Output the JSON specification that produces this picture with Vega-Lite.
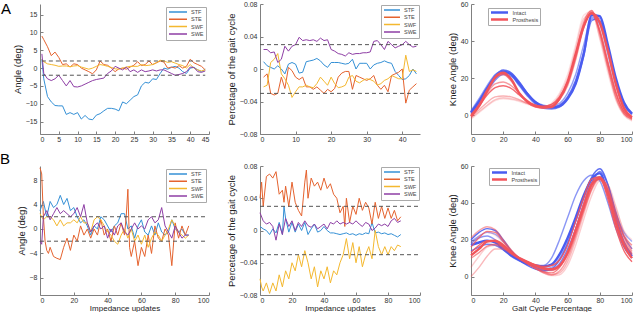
{
"$schema":"https://vega.github.io/schema/vega-lite/v6.json",
"padding":0,
"background":"white",
"config":{"font":"Liberation Sans","view":{"stroke":null},
"axis":{"grid":false,"domainColor":"#808080","tickColor":"#808080","tickSize":-3,"labelFontSize":7,"labelColor":"#333333","titleFontSize":9.5,"titleFontWeight":"normal","titleColor":"#222222","labelOverlap":false,"labelBound":false},
"axisX":{"labelPadding":4,"titlePadding":1},
"axisY":{"labelPadding":6,"titlePadding":3},
"legend":{"labelFontSize":5.5,"labelColor":"#444444","fillColor":"white","strokeColor":"#aaaaaa","padding":2,"labelOffset":3,"clipHeight":6,"rowPadding":0.3}},
"datasets":{
"a1":[
{"x":0.5,"y":2.5,"s":"STF"},{"x":1,"y":-3,"s":"STF"},{"x":2,"y":-8,"s":"STF"},{"x":3,"y":-9.5,"s":"STF"},{"x":4,"y":-10.5,"s":"STF"},{"x":5,"y":-10.6,"s":"STF"},{"x":6,"y":-10.6,"s":"STF"},{"x":7,"y":-13,"s":"STF"},{"x":8,"y":-12.5,"s":"STF"},{"x":9,"y":-13,"s":"STF"},{"x":10,"y":-12.5,"s":"STF"},{"x":11,"y":-14.3,"s":"STF"},{"x":12,"y":-13.3,"s":"STF"},{"x":13,"y":-14.3,"s":"STF"},{"x":14,"y":-14.5,"s":"STF"},{"x":15,"y":-13.2,"s":"STF"},{"x":16,"y":-12.8,"s":"STF"},{"x":17,"y":-12,"s":"STF"},{"x":18,"y":-11.3,"s":"STF"},{"x":19,"y":-11.3,"s":"STF"},{"x":20,"y":-11.5,"s":"STF"},{"x":21,"y":-12,"s":"STF"},{"x":22,"y":-9.5,"s":"STF"},{"x":23,"y":-10,"s":"STF"},{"x":24,"y":-9,"s":"STF"},{"x":25,"y":-8,"s":"STF"},{"x":26,"y":-7.5,"s":"STF"},{"x":27,"y":-5,"s":"STF"},{"x":28,"y":-4,"s":"STF"},{"x":29,"y":-4.2,"s":"STF"},{"x":30,"y":-3,"s":"STF"},{"x":31,"y":-3.2,"s":"STF"},{"x":32,"y":-1.5,"s":"STF"},{"x":33,"y":0,"s":"STF"},{"x":34,"y":-0.3,"s":"STF"},{"x":35,"y":0.2,"s":"STF"},{"x":36,"y":0.5,"s":"STF"},{"x":37,"y":0,"s":"STF"},{"x":38,"y":-1,"s":"STF"},{"x":39,"y":-1.5,"s":"STF"},{"x":40,"y":0,"s":"STF"},{"x":41,"y":0.2,"s":"STF"},{"x":42,"y":-0.5,"s":"STF"},{"x":43,"y":-1,"s":"STF"},{"x":44,"y":-0.3,"s":"STF"},
{"x":0.5,"y":9,"s":"STE"},{"x":1,"y":8,"s":"STE"},{"x":2,"y":6,"s":"STE"},{"x":3,"y":3.5,"s":"STE"},{"x":4,"y":4.5,"s":"STE"},{"x":5,"y":3,"s":"STE"},{"x":6,"y":1,"s":"STE"},{"x":7,"y":1.2,"s":"STE"},{"x":8,"y":0.3,"s":"STE"},{"x":9,"y":1.2,"s":"STE"},{"x":10,"y":1,"s":"STE"},{"x":11,"y":0,"s":"STE"},{"x":12,"y":-0.5,"s":"STE"},{"x":13,"y":-1,"s":"STE"},{"x":14,"y":-1.6,"s":"STE"},{"x":15,"y":-0.5,"s":"STE"},{"x":16,"y":2,"s":"STE"},{"x":17,"y":1,"s":"STE"},{"x":18,"y":0.8,"s":"STE"},{"x":19,"y":0,"s":"STE"},{"x":20,"y":-1,"s":"STE"},{"x":21,"y":-0.2,"s":"STE"},{"x":22,"y":0,"s":"STE"},{"x":23,"y":-0.3,"s":"STE"},{"x":24,"y":0.3,"s":"STE"},{"x":25,"y":0.8,"s":"STE"},{"x":26,"y":1.8,"s":"STE"},{"x":27,"y":0.7,"s":"STE"},{"x":28,"y":1,"s":"STE"},{"x":29,"y":2,"s":"STE"},{"x":30,"y":1,"s":"STE"},{"x":31,"y":1.5,"s":"STE"},{"x":32,"y":2,"s":"STE"},{"x":33,"y":1.7,"s":"STE"},{"x":34,"y":0,"s":"STE"},{"x":35,"y":0.3,"s":"STE"},{"x":36,"y":0,"s":"STE"},{"x":37,"y":0.7,"s":"STE"},{"x":38,"y":0,"s":"STE"},{"x":39,"y":0.5,"s":"STE"},{"x":40,"y":2.5,"s":"STE"},{"x":41,"y":1.5,"s":"STE"},{"x":42,"y":1,"s":"STE"},{"x":43,"y":0.5,"s":"STE"},{"x":44,"y":-0.5,"s":"STE"},
{"x":0.5,"y":2.5,"s":"SWF"},{"x":1,"y":1.8,"s":"SWF"},{"x":2,"y":1.2,"s":"SWF"},{"x":3,"y":1,"s":"SWF"},{"x":4,"y":0.8,"s":"SWF"},{"x":5,"y":0.5,"s":"SWF"},{"x":6,"y":0.6,"s":"SWF"},{"x":7,"y":0.6,"s":"SWF"},{"x":8,"y":0.4,"s":"SWF"},{"x":9,"y":0.6,"s":"SWF"},{"x":10,"y":0.7,"s":"SWF"},{"x":11,"y":0.3,"s":"SWF"},{"x":12,"y":0,"s":"SWF"},{"x":13,"y":-0.3,"s":"SWF"},{"x":14,"y":0,"s":"SWF"},{"x":15,"y":0.5,"s":"SWF"},{"x":16,"y":1,"s":"SWF"},{"x":17,"y":0.8,"s":"SWF"},{"x":18,"y":0.5,"s":"SWF"},{"x":19,"y":0.2,"s":"SWF"},{"x":20,"y":-0.2,"s":"SWF"},{"x":21,"y":-0.3,"s":"SWF"},{"x":22,"y":0,"s":"SWF"},{"x":23,"y":0.3,"s":"SWF"},{"x":24,"y":0.5,"s":"SWF"},{"x":25,"y":0.5,"s":"SWF"},{"x":26,"y":0.5,"s":"SWF"},{"x":27,"y":1,"s":"SWF"},{"x":28,"y":0.7,"s":"SWF"},{"x":29,"y":0.8,"s":"SWF"},{"x":30,"y":1,"s":"SWF"},{"x":31,"y":1.5,"s":"SWF"},{"x":32,"y":2.2,"s":"SWF"},{"x":33,"y":2,"s":"SWF"},{"x":34,"y":1.6,"s":"SWF"},{"x":35,"y":1.8,"s":"SWF"},{"x":36,"y":1.4,"s":"SWF"},{"x":37,"y":1,"s":"SWF"},{"x":38,"y":0.7,"s":"SWF"},{"x":39,"y":0,"s":"SWF"},{"x":40,"y":1,"s":"SWF"},{"x":41,"y":0,"s":"SWF"},{"x":42,"y":-0.5,"s":"SWF"},{"x":43,"y":-0.8,"s":"SWF"},{"x":44,"y":-0.5,"s":"SWF"},
{"x":0.5,"y":4,"s":"SWE"},{"x":1,"y":-1.5,"s":"SWE"},{"x":2,"y":-3,"s":"SWE"},{"x":3,"y":-3.5,"s":"SWE"},{"x":4,"y":-3,"s":"SWE"},{"x":5,"y":-2,"s":"SWE"},{"x":6,"y":-3.5,"s":"SWE"},{"x":7,"y":-5,"s":"SWE"},{"x":8,"y":-3.5,"s":"SWE"},{"x":9,"y":-5.2,"s":"SWE"},{"x":10,"y":-5.3,"s":"SWE"},{"x":11,"y":-5,"s":"SWE"},{"x":12,"y":-4.5,"s":"SWE"},{"x":13,"y":-4,"s":"SWE"},{"x":14,"y":-3.5,"s":"SWE"},{"x":15,"y":-3.2,"s":"SWE"},{"x":16,"y":-3,"s":"SWE"},{"x":17,"y":-2.8,"s":"SWE"},{"x":18,"y":-1.5,"s":"SWE"},{"x":19,"y":-0.8,"s":"SWE"},{"x":20,"y":0.5,"s":"SWE"},{"x":21,"y":0,"s":"SWE"},{"x":22,"y":-0.5,"s":"SWE"},{"x":23,"y":0.3,"s":"SWE"},{"x":24,"y":-1,"s":"SWE"},{"x":25,"y":-0.5,"s":"SWE"},{"x":26,"y":-1.2,"s":"SWE"},{"x":27,"y":-0.5,"s":"SWE"},{"x":28,"y":-1,"s":"SWE"},{"x":29,"y":-0.8,"s":"SWE"},{"x":30,"y":-0.5,"s":"SWE"},{"x":31,"y":-0.8,"s":"SWE"},{"x":32,"y":-0.5,"s":"SWE"},{"x":33,"y":-0.5,"s":"SWE"},{"x":34,"y":-1,"s":"SWE"},{"x":35,"y":-1.5,"s":"SWE"},{"x":36,"y":-2,"s":"SWE"},{"x":37,"y":-1.8,"s":"SWE"},{"x":38,"y":-1.5,"s":"SWE"},{"x":39,"y":-1,"s":"SWE"},{"x":40,"y":0.3,"s":"SWE"},{"x":41,"y":0.2,"s":"SWE"},{"x":42,"y":-1,"s":"SWE"},{"x":43,"y":-1.2,"s":"SWE"},{"x":44,"y":-0.8,"s":"SWE"}],
"a2":[
{"x":1,"y":0.009,"s":"STF"},{"x":2,"y":0.004,"s":"STF"},{"x":3,"y":0.002,"s":"STF"},{"x":4,"y":0,"s":"STF"},{"x":5,"y":0.004,"s":"STF"},{"x":6,"y":0,"s":"STF"},{"x":7,"y":-0.006,"s":"STF"},{"x":8,"y":0.006,"s":"STF"},{"x":9,"y":0.008,"s":"STF"},{"x":10,"y":0.006,"s":"STF"},{"x":11,"y":-0.005,"s":"STF"},{"x":12,"y":-0.004,"s":"STF"},{"x":13,"y":0.009,"s":"STF"},{"x":14,"y":0.01,"s":"STF"},{"x":15,"y":0.011,"s":"STF"},{"x":16,"y":0.013,"s":"STF"},{"x":17,"y":0.01,"s":"STF"},{"x":18,"y":0.005,"s":"STF"},{"x":19,"y":0.002,"s":"STF"},{"x":20,"y":0.008,"s":"STF"},{"x":21,"y":0.008,"s":"STF"},{"x":22,"y":0.008,"s":"STF"},{"x":23,"y":0.007,"s":"STF"},{"x":24,"y":0.006,"s":"STF"},{"x":25,"y":0.007,"s":"STF"},{"x":26,"y":0.012,"s":"STF"},{"x":27,"y":0,"s":"STF"},{"x":28,"y":0.007,"s":"STF"},{"x":29,"y":0.007,"s":"STF"},{"x":30,"y":0.007,"s":"STF"},{"x":31,"y":0,"s":"STF"},{"x":32,"y":0.005,"s":"STF"},{"x":33,"y":0.007,"s":"STF"},{"x":34,"y":0.008,"s":"STF"},{"x":35,"y":0.01,"s":"STF"},{"x":36,"y":0.008,"s":"STF"},{"x":37,"y":0.007,"s":"STF"},{"x":38,"y":-0.003,"s":"STF"},{"x":39,"y":-0.008,"s":"STF"},{"x":40,"y":-0.013,"s":"STF"},{"x":41,"y":-0.012,"s":"STF"},{"x":42,"y":-0.008,"s":"STF"},{"x":43,"y":0,"s":"STF"},{"x":44,"y":-0.006,"s":"STF"},
{"x":1,"y":-0.01,"s":"STE"},{"x":2,"y":-0.006,"s":"STE"},{"x":3,"y":-0.03,"s":"STE"},{"x":4,"y":-0.032,"s":"STE"},{"x":5,"y":-0.03,"s":"STE"},{"x":6,"y":-0.01,"s":"STE"},{"x":7,"y":-0.024,"s":"STE"},{"x":8,"y":0.002,"s":"STE"},{"x":9,"y":-0.002,"s":"STE"},{"x":10,"y":-0.01,"s":"STE"},{"x":11,"y":-0.013,"s":"STE"},{"x":12,"y":-0.01,"s":"STE"},{"x":13,"y":-0.022,"s":"STE"},{"x":14,"y":-0.022,"s":"STE"},{"x":15,"y":-0.025,"s":"STE"},{"x":16,"y":-0.022,"s":"STE"},{"x":17,"y":-0.026,"s":"STE"},{"x":18,"y":-0.03,"s":"STE"},{"x":19,"y":-0.025,"s":"STE"},{"x":20,"y":-0.028,"s":"STE"},{"x":21,"y":-0.024,"s":"STE"},{"x":22,"y":-0.01,"s":"STE"},{"x":23,"y":-0.005,"s":"STE"},{"x":24,"y":-0.003,"s":"STE"},{"x":25,"y":-0.003,"s":"STE"},{"x":26,"y":-0.025,"s":"STE"},{"x":27,"y":-0.008,"s":"STE"},{"x":28,"y":-0.01,"s":"STE"},{"x":29,"y":-0.012,"s":"STE"},{"x":30,"y":-0.014,"s":"STE"},{"x":31,"y":-0.012,"s":"STE"},{"x":32,"y":-0.008,"s":"STE"},{"x":33,"y":-0.02,"s":"STE"},{"x":34,"y":-0.025,"s":"STE"},{"x":35,"y":-0.02,"s":"STE"},{"x":36,"y":-0.028,"s":"STE"},{"x":37,"y":-0.008,"s":"STE"},{"x":38,"y":-0.006,"s":"STE"},{"x":39,"y":-0.004,"s":"STE"},{"x":40,"y":0,"s":"STE"},{"x":41,"y":-0.042,"s":"STE"},{"x":42,"y":-0.026,"s":"STE"},{"x":43,"y":-0.022,"s":"STE"},{"x":44,"y":-0.018,"s":"STE"},
{"x":1,"y":-0.022,"s":"SWF"},{"x":2,"y":-0.02,"s":"SWF"},{"x":3,"y":0.008,"s":"SWF"},{"x":4,"y":0.012,"s":"SWF"},{"x":5,"y":0.019,"s":"SWF"},{"x":6,"y":-0.006,"s":"SWF"},{"x":7,"y":-0.012,"s":"SWF"},{"x":8,"y":-0.02,"s":"SWF"},{"x":9,"y":-0.035,"s":"SWF"},{"x":10,"y":-0.028,"s":"SWF"},{"x":11,"y":-0.022,"s":"SWF"},{"x":12,"y":-0.022,"s":"SWF"},{"x":13,"y":-0.02,"s":"SWF"},{"x":14,"y":-0.022,"s":"SWF"},{"x":15,"y":-0.023,"s":"SWF"},{"x":16,"y":-0.018,"s":"SWF"},{"x":17,"y":-0.01,"s":"SWF"},{"x":18,"y":-0.015,"s":"SWF"},{"x":19,"y":-0.02,"s":"SWF"},{"x":20,"y":-0.01,"s":"SWF"},{"x":21,"y":-0.018,"s":"SWF"},{"x":22,"y":-0.023,"s":"SWF"},{"x":23,"y":-0.022,"s":"SWF"},{"x":24,"y":-0.02,"s":"SWF"},{"x":25,"y":-0.01,"s":"SWF"},{"x":26,"y":-0.008,"s":"SWF"},{"x":27,"y":-0.015,"s":"SWF"},{"x":28,"y":-0.017,"s":"SWF"},{"x":29,"y":-0.014,"s":"SWF"},{"x":30,"y":-0.012,"s":"SWF"},{"x":31,"y":-0.013,"s":"SWF"},{"x":32,"y":-0.015,"s":"SWF"},{"x":33,"y":-0.02,"s":"SWF"},{"x":34,"y":-0.018,"s":"SWF"},{"x":35,"y":-0.014,"s":"SWF"},{"x":36,"y":-0.012,"s":"SWF"},{"x":37,"y":-0.008,"s":"SWF"},{"x":38,"y":-0.01,"s":"SWF"},{"x":39,"y":-0.012,"s":"SWF"},{"x":40,"y":-0.012,"s":"SWF"},{"x":41,"y":0.017,"s":"SWF"},{"x":42,"y":-0.003,"s":"SWF"},{"x":43,"y":-0.001,"s":"SWF"},{"x":44,"y":-0.003,"s":"SWF"},
{"x":1,"y":0.024,"s":"SWE"},{"x":2,"y":0.024,"s":"SWE"},{"x":3,"y":0.02,"s":"SWE"},{"x":4,"y":0.021,"s":"SWE"},{"x":5,"y":0.008,"s":"SWE"},{"x":6,"y":0.012,"s":"SWE"},{"x":7,"y":0.028,"s":"SWE"},{"x":8,"y":0.022,"s":"SWE"},{"x":9,"y":0.028,"s":"SWE"},{"x":10,"y":0.03,"s":"SWE"},{"x":11,"y":0.039,"s":"SWE"},{"x":12,"y":0.035,"s":"SWE"},{"x":13,"y":0.036,"s":"SWE"},{"x":14,"y":0.035,"s":"SWE"},{"x":15,"y":0.036,"s":"SWE"},{"x":16,"y":0.034,"s":"SWE"},{"x":17,"y":0.038,"s":"SWE"},{"x":18,"y":0.035,"s":"SWE"},{"x":19,"y":0.036,"s":"SWE"},{"x":20,"y":0.024,"s":"SWE"},{"x":21,"y":0.022,"s":"SWE"},{"x":22,"y":0.019,"s":"SWE"},{"x":23,"y":0.018,"s":"SWE"},{"x":24,"y":0.016,"s":"SWE"},{"x":25,"y":0.02,"s":"SWE"},{"x":26,"y":0.018,"s":"SWE"},{"x":27,"y":0.019,"s":"SWE"},{"x":28,"y":0.019,"s":"SWE"},{"x":29,"y":0.02,"s":"SWE"},{"x":30,"y":0.02,"s":"SWE"},{"x":31,"y":0.021,"s":"SWE"},{"x":32,"y":0.034,"s":"SWE"},{"x":33,"y":0.035,"s":"SWE"},{"x":34,"y":0.03,"s":"SWE"},{"x":35,"y":0.024,"s":"SWE"},{"x":36,"y":0.034,"s":"SWE"},{"x":37,"y":0.03,"s":"SWE"},{"x":38,"y":0.026,"s":"SWE"},{"x":39,"y":0.028,"s":"SWE"},{"x":40,"y":0.03,"s":"SWE"},{"x":41,"y":0.034,"s":"SWE"},{"x":42,"y":0.03,"s":"SWE"},{"x":43,"y":0.027,"s":"SWE"},{"x":44,"y":0.028,"s":"SWE"}],
"b1":[
{"x":0,"y":3,"s":"STF"},{"x":2,"y":4.5,"s":"STF"},{"x":4,"y":2,"s":"STF"},{"x":6,"y":4.5,"s":"STF"},{"x":8,"y":3.5,"s":"STF"},{"x":10,"y":4,"s":"STF"},{"x":12,"y":5.5,"s":"STF"},{"x":14,"y":4,"s":"STF"},{"x":16,"y":5,"s":"STF"},{"x":18,"y":3,"s":"STF"},{"x":20,"y":3.5,"s":"STF"},{"x":22,"y":2,"s":"STF"},{"x":24,"y":1,"s":"STF"},{"x":26,"y":1.5,"s":"STF"},{"x":28,"y":0.5,"s":"STF"},{"x":30,"y":-1,"s":"STF"},{"x":32,"y":0.5,"s":"STF"},{"x":34,"y":0,"s":"STF"},{"x":36,"y":2,"s":"STF"},{"x":38,"y":1.5,"s":"STF"},{"x":40,"y":0.5,"s":"STF"},{"x":42,"y":-0.5,"s":"STF"},{"x":44,"y":0.5,"s":"STF"},{"x":46,"y":1,"s":"STF"},{"x":48,"y":2.5,"s":"STF"},{"x":50,"y":2.5,"s":"STF"},{"x":52,"y":0,"s":"STF"},{"x":54,"y":0.5,"s":"STF"},{"x":56,"y":-1.5,"s":"STF"},{"x":58,"y":0.5,"s":"STF"},{"x":60,"y":1.5,"s":"STF"},{"x":62,"y":-0.5,"s":"STF"},{"x":64,"y":-1,"s":"STF"},{"x":66,"y":0.5,"s":"STF"},{"x":68,"y":-1,"s":"STF"},{"x":70,"y":1,"s":"STF"},{"x":72,"y":-0.5,"s":"STF"},{"x":74,"y":-1,"s":"STF"},{"x":76,"y":-0.5,"s":"STF"},{"x":78,"y":1.5,"s":"STF"},{"x":80,"y":0,"s":"STF"},{"x":82,"y":-0.5,"s":"STF"},{"x":84,"y":0,"s":"STF"},{"x":86,"y":-1,"s":"STF"},{"x":88,"y":-1,"s":"STF"},
{"x":0,"y":10,"s":"STE"},{"x":1,"y":9,"s":"STE"},{"x":2,"y":2,"s":"STE"},{"x":3,"y":-2,"s":"STE"},{"x":4,"y":-3.5,"s":"STE"},{"x":5,"y":-4,"s":"STE"},{"x":6,"y":-3,"s":"STE"},{"x":8,"y":-4.5,"s":"STE"},{"x":10,"y":-4.8,"s":"STE"},{"x":12,"y":-5,"s":"STE"},{"x":14,"y":-3,"s":"STE"},{"x":16,"y":-1.5,"s":"STE"},{"x":18,"y":-3.5,"s":"STE"},{"x":20,"y":-1,"s":"STE"},{"x":22,"y":-2,"s":"STE"},{"x":24,"y":0.5,"s":"STE"},{"x":26,"y":-1,"s":"STE"},{"x":28,"y":0,"s":"STE"},{"x":30,"y":-1.5,"s":"STE"},{"x":32,"y":0,"s":"STE"},{"x":34,"y":-1,"s":"STE"},{"x":36,"y":1.5,"s":"STE"},{"x":38,"y":-1,"s":"STE"},{"x":40,"y":0,"s":"STE"},{"x":42,"y":-2,"s":"STE"},{"x":44,"y":0.5,"s":"STE"},{"x":46,"y":-1,"s":"STE"},{"x":48,"y":1,"s":"STE"},{"x":50,"y":-1,"s":"STE"},{"x":51,"y":2,"s":"STE"},{"x":52,"y":6.5,"s":"STE"},{"x":53,"y":-3,"s":"STE"},{"x":54,"y":-4.5,"s":"STE"},{"x":56,"y":-2,"s":"STE"},{"x":58,"y":-6,"s":"STE"},{"x":60,"y":-3,"s":"STE"},{"x":62,"y":-4.5,"s":"STE"},{"x":64,"y":-1,"s":"STE"},{"x":66,"y":-4,"s":"STE"},{"x":68,"y":0.5,"s":"STE"},{"x":70,"y":-1.5,"s":"STE"},{"x":72,"y":-2,"s":"STE"},{"x":74,"y":0,"s":"STE"},{"x":76,"y":-1,"s":"STE"},{"x":78,"y":-6,"s":"STE"},{"x":80,"y":1,"s":"STE"},{"x":82,"y":-1.5,"s":"STE"},{"x":84,"y":0.5,"s":"STE"},{"x":86,"y":-1,"s":"STE"},{"x":88,"y":0.5,"s":"STE"},
{"x":0,"y":2.5,"s":"SWF"},{"x":2,"y":1.5,"s":"SWF"},{"x":4,"y":2,"s":"SWF"},{"x":6,"y":2,"s":"SWF"},{"x":8,"y":1.5,"s":"SWF"},{"x":10,"y":0.5,"s":"SWF"},{"x":12,"y":1.5,"s":"SWF"},{"x":14,"y":0.5,"s":"SWF"},{"x":16,"y":1,"s":"SWF"},{"x":18,"y":1,"s":"SWF"},{"x":20,"y":1.5,"s":"SWF"},{"x":22,"y":1,"s":"SWF"},{"x":24,"y":2,"s":"SWF"},{"x":26,"y":1,"s":"SWF"},{"x":28,"y":1,"s":"SWF"},{"x":30,"y":-0.5,"s":"SWF"},{"x":32,"y":1.5,"s":"SWF"},{"x":34,"y":2,"s":"SWF"},{"x":36,"y":1.5,"s":"SWF"},{"x":38,"y":0.5,"s":"SWF"},{"x":40,"y":-0.5,"s":"SWF"},{"x":42,"y":-1,"s":"SWF"},{"x":44,"y":-2,"s":"SWF"},{"x":46,"y":-2.5,"s":"SWF"},{"x":48,"y":-1,"s":"SWF"},{"x":50,"y":0,"s":"SWF"},{"x":52,"y":-1.5,"s":"SWF"},{"x":54,"y":0,"s":"SWF"},{"x":56,"y":-2,"s":"SWF"},{"x":58,"y":-1,"s":"SWF"},{"x":60,"y":-2.5,"s":"SWF"},{"x":62,"y":-1,"s":"SWF"},{"x":64,"y":-3,"s":"SWF"},{"x":66,"y":-1.5,"s":"SWF"},{"x":68,"y":-0.5,"s":"SWF"},{"x":70,"y":-1,"s":"SWF"},{"x":72,"y":-2,"s":"SWF"},{"x":74,"y":-1,"s":"SWF"},{"x":76,"y":0,"s":"SWF"},{"x":78,"y":1.5,"s":"SWF"},{"x":80,"y":0.5,"s":"SWF"},{"x":82,"y":-0.5,"s":"SWF"},{"x":84,"y":-1,"s":"SWF"},{"x":86,"y":-1.5,"s":"SWF"},{"x":88,"y":-1,"s":"SWF"},
{"x":0,"y":-2,"s":"SWE"},{"x":1,"y":-2.5,"s":"SWE"},{"x":2,"y":2,"s":"SWE"},{"x":4,"y":3,"s":"SWE"},{"x":6,"y":1.5,"s":"SWE"},{"x":8,"y":2.5,"s":"SWE"},{"x":10,"y":3.5,"s":"SWE"},{"x":12,"y":2.5,"s":"SWE"},{"x":14,"y":3,"s":"SWE"},{"x":16,"y":2.5,"s":"SWE"},{"x":18,"y":2,"s":"SWE"},{"x":20,"y":2.5,"s":"SWE"},{"x":22,"y":3.5,"s":"SWE"},{"x":24,"y":2,"s":"SWE"},{"x":26,"y":4,"s":"SWE"},{"x":28,"y":1,"s":"SWE"},{"x":30,"y":-0.5,"s":"SWE"},{"x":32,"y":0.5,"s":"SWE"},{"x":34,"y":1,"s":"SWE"},{"x":36,"y":0,"s":"SWE"},{"x":38,"y":0.5,"s":"SWE"},{"x":40,"y":-1.5,"s":"SWE"},{"x":42,"y":0,"s":"SWE"},{"x":44,"y":-1,"s":"SWE"},{"x":46,"y":0.5,"s":"SWE"},{"x":48,"y":1,"s":"SWE"},{"x":50,"y":-0.5,"s":"SWE"},{"x":52,"y":-1,"s":"SWE"},{"x":54,"y":0,"s":"SWE"},{"x":56,"y":1,"s":"SWE"},{"x":58,"y":0,"s":"SWE"},{"x":60,"y":0.5,"s":"SWE"},{"x":62,"y":0,"s":"SWE"},{"x":64,"y":1.5,"s":"SWE"},{"x":66,"y":2,"s":"SWE"},{"x":68,"y":1,"s":"SWE"},{"x":70,"y":1.5,"s":"SWE"},{"x":72,"y":3.5,"s":"SWE"},{"x":74,"y":0.5,"s":"SWE"},{"x":76,"y":-0.5,"s":"SWE"},{"x":78,"y":-1.5,"s":"SWE"},{"x":80,"y":0.5,"s":"SWE"},{"x":82,"y":-0.5,"s":"SWE"},{"x":84,"y":-1.5,"s":"SWE"},{"x":86,"y":-1,"s":"SWE"},{"x":88,"y":-1,"s":"SWE"}],
"b2":[
{"x":0,"y":0.005,"s":"STF"},{"x":2,"y":0.002,"s":"STF"},{"x":4,"y":0,"s":"STF"},{"x":6,"y":-0.005,"s":"STF"},{"x":8,"y":0.002,"s":"STF"},{"x":10,"y":-0.003,"s":"STF"},{"x":12,"y":0.01,"s":"STF"},{"x":14,"y":-0.005,"s":"STF"},{"x":15,"y":0.03,"s":"STF"},{"x":16,"y":0.015,"s":"STF"},{"x":18,"y":-0.002,"s":"STF"},{"x":20,"y":0.01,"s":"STF"},{"x":22,"y":-0.002,"s":"STF"},{"x":24,"y":0.008,"s":"STF"},{"x":26,"y":0,"s":"STF"},{"x":28,"y":0.01,"s":"STF"},{"x":30,"y":-0.005,"s":"STF"},{"x":32,"y":0.002,"s":"STF"},{"x":34,"y":0.008,"s":"STF"},{"x":36,"y":-0.002,"s":"STF"},{"x":38,"y":0,"s":"STF"},{"x":40,"y":0.005,"s":"STF"},{"x":42,"y":0,"s":"STF"},{"x":44,"y":-0.003,"s":"STF"},{"x":46,"y":-0.003,"s":"STF"},{"x":48,"y":-0.004,"s":"STF"},{"x":50,"y":-0.005,"s":"STF"},{"x":52,"y":-0.004,"s":"STF"},{"x":54,"y":-0.003,"s":"STF"},{"x":56,"y":-0.005,"s":"STF"},{"x":58,"y":-0.004,"s":"STF"},{"x":60,"y":-0.006,"s":"STF"},{"x":62,"y":-0.004,"s":"STF"},{"x":64,"y":-0.005,"s":"STF"},{"x":66,"y":-0.003,"s":"STF"},{"x":68,"y":-0.004,"s":"STF"},{"x":70,"y":0.01,"s":"STF"},{"x":72,"y":-0.003,"s":"STF"},{"x":74,"y":-0.002,"s":"STF"},{"x":76,"y":-0.004,"s":"STF"},{"x":78,"y":-0.003,"s":"STF"},{"x":80,"y":-0.005,"s":"STF"},{"x":82,"y":-0.004,"s":"STF"},{"x":84,"y":-0.006,"s":"STF"},{"x":86,"y":-0.008,"s":"STF"},{"x":88,"y":-0.005,"s":"STF"},
{"x":0,"y":0.04,"s":"STE"},{"x":1,"y":0.06,"s":"STE"},{"x":2,"y":0.03,"s":"STE"},{"x":4,"y":0.067,"s":"STE"},{"x":6,"y":0.07,"s":"STE"},{"x":8,"y":0.065,"s":"STE"},{"x":10,"y":0.073,"s":"STE"},{"x":12,"y":0.045,"s":"STE"},{"x":14,"y":0.05,"s":"STE"},{"x":15,"y":0.035,"s":"STE"},{"x":16,"y":0.055,"s":"STE"},{"x":18,"y":0.03,"s":"STE"},{"x":20,"y":0.06,"s":"STE"},{"x":22,"y":0.035,"s":"STE"},{"x":24,"y":0.025,"s":"STE"},{"x":26,"y":0.018,"s":"STE"},{"x":28,"y":0.06,"s":"STE"},{"x":29,"y":0.075,"s":"STE"},{"x":30,"y":0.04,"s":"STE"},{"x":32,"y":0.065,"s":"STE"},{"x":34,"y":0.055,"s":"STE"},{"x":36,"y":0.06,"s":"STE"},{"x":38,"y":0.05,"s":"STE"},{"x":40,"y":0.065,"s":"STE"},{"x":42,"y":0.052,"s":"STE"},{"x":44,"y":0.058,"s":"STE"},{"x":46,"y":0.045,"s":"STE"},{"x":48,"y":0.04,"s":"STE"},{"x":50,"y":0.022,"s":"STE"},{"x":52,"y":0.03,"s":"STE"},{"x":53,"y":0.005,"s":"STE"},{"x":54,"y":0.04,"s":"STE"},{"x":56,"y":0.01,"s":"STE"},{"x":58,"y":0.03,"s":"STE"},{"x":60,"y":0.02,"s":"STE"},{"x":62,"y":0.04,"s":"STE"},{"x":64,"y":0.025,"s":"STE"},{"x":66,"y":0.035,"s":"STE"},{"x":68,"y":0.028,"s":"STE"},{"x":70,"y":0.008,"s":"STE"},{"x":72,"y":0.035,"s":"STE"},{"x":74,"y":0.015,"s":"STE"},{"x":76,"y":0.03,"s":"STE"},{"x":78,"y":0.015,"s":"STE"},{"x":80,"y":0.028,"s":"STE"},{"x":82,"y":0.015,"s":"STE"},{"x":84,"y":0.025,"s":"STE"},{"x":86,"y":0.012,"s":"STE"},{"x":88,"y":0.017,"s":"STE"},
{"x":0,"y":-0.06,"s":"SWF"},{"x":1,"y":-0.07,"s":"SWF"},{"x":2,"y":-0.075,"s":"SWF"},{"x":4,"y":-0.065,"s":"SWF"},{"x":6,"y":-0.078,"s":"SWF"},{"x":8,"y":-0.065,"s":"SWF"},{"x":10,"y":-0.075,"s":"SWF"},{"x":12,"y":-0.055,"s":"SWF"},{"x":14,"y":-0.07,"s":"SWF"},{"x":16,"y":-0.05,"s":"SWF"},{"x":18,"y":-0.06,"s":"SWF"},{"x":20,"y":-0.04,"s":"SWF"},{"x":22,"y":-0.05,"s":"SWF"},{"x":24,"y":-0.03,"s":"SWF"},{"x":26,"y":-0.045,"s":"SWF"},{"x":28,"y":-0.025,"s":"SWF"},{"x":30,"y":-0.04,"s":"SWF"},{"x":32,"y":-0.06,"s":"SWF"},{"x":34,"y":-0.045,"s":"SWF"},{"x":36,"y":-0.07,"s":"SWF"},{"x":38,"y":-0.05,"s":"SWF"},{"x":40,"y":-0.06,"s":"SWF"},{"x":42,"y":-0.045,"s":"SWF"},{"x":44,"y":-0.065,"s":"SWF"},{"x":46,"y":-0.05,"s":"SWF"},{"x":48,"y":-0.055,"s":"SWF"},{"x":50,"y":-0.04,"s":"SWF"},{"x":52,"y":-0.03,"s":"SWF"},{"x":54,"y":-0.01,"s":"SWF"},{"x":56,"y":-0.035,"s":"SWF"},{"x":58,"y":-0.015,"s":"SWF"},{"x":60,"y":-0.04,"s":"SWF"},{"x":62,"y":-0.02,"s":"SWF"},{"x":64,"y":-0.045,"s":"SWF"},{"x":66,"y":-0.03,"s":"SWF"},{"x":68,"y":-0.02,"s":"SWF"},{"x":70,"y":-0.035,"s":"SWF"},{"x":72,"y":0,"s":"SWF"},{"x":74,"y":-0.02,"s":"SWF"},{"x":76,"y":-0.03,"s":"SWF"},{"x":78,"y":-0.02,"s":"SWF"},{"x":80,"y":-0.03,"s":"SWF"},{"x":82,"y":-0.02,"s":"SWF"},{"x":84,"y":-0.025,"s":"SWF"},{"x":86,"y":-0.018,"s":"SWF"},{"x":88,"y":-0.02,"s":"SWF"},
{"x":0,"y":0.022,"s":"SWE"},{"x":2,"y":0.012,"s":"SWE"},{"x":4,"y":0.008,"s":"SWE"},{"x":6,"y":0.01,"s":"SWE"},{"x":8,"y":0.005,"s":"SWE"},{"x":10,"y":-0.012,"s":"SWE"},{"x":12,"y":0.008,"s":"SWE"},{"x":14,"y":-0.005,"s":"SWE"},{"x":16,"y":0.015,"s":"SWE"},{"x":18,"y":0.005,"s":"SWE"},{"x":20,"y":0.012,"s":"SWE"},{"x":22,"y":0,"s":"SWE"},{"x":24,"y":0.01,"s":"SWE"},{"x":26,"y":0.005,"s":"SWE"},{"x":28,"y":0.012,"s":"SWE"},{"x":30,"y":0.006,"s":"SWE"},{"x":32,"y":0.004,"s":"SWE"},{"x":34,"y":0.008,"s":"SWE"},{"x":36,"y":0.002,"s":"SWE"},{"x":38,"y":0.005,"s":"SWE"},{"x":40,"y":0.008,"s":"SWE"},{"x":42,"y":0.002,"s":"SWE"},{"x":44,"y":0.01,"s":"SWE"},{"x":46,"y":0.008,"s":"SWE"},{"x":48,"y":0.012,"s":"SWE"},{"x":50,"y":0.008,"s":"SWE"},{"x":52,"y":0.01,"s":"SWE"},{"x":54,"y":0.008,"s":"SWE"},{"x":56,"y":0.01,"s":"SWE"},{"x":58,"y":0.008,"s":"SWE"},{"x":60,"y":0.012,"s":"SWE"},{"x":62,"y":0.008,"s":"SWE"},{"x":64,"y":0.005,"s":"SWE"},{"x":66,"y":0.01,"s":"SWE"},{"x":68,"y":0.008,"s":"SWE"},{"x":70,"y":0,"s":"SWE"},{"x":72,"y":0.003,"s":"SWE"},{"x":74,"y":0.008,"s":"SWE"},{"x":76,"y":0.006,"s":"SWE"},{"x":78,"y":0.008,"s":"SWE"},{"x":80,"y":0.005,"s":"SWE"},{"x":82,"y":0.012,"s":"SWE"},{"x":84,"y":0.015,"s":"SWE"},{"x":86,"y":0.01,"s":"SWE"},{"x":88,"y":0.012,"s":"SWE"}],
"a3":[
{"g":"Intact","k":4,"x":0,"y":2.5},{"g":"Intact","k":4,"x":5,"y":9},{"g":"Intact","k":4,"x":10,"y":16},{"g":"Intact","k":4,"x":15,"y":22},{"g":"Intact","k":4,"x":20,"y":24},{"g":"Intact","k":4,"x":25,"y":22.5},{"g":"Intact","k":4,"x":30,"y":18},{"g":"Intact","k":4,"x":35,"y":12},{"g":"Intact","k":4,"x":40,"y":7.5},{"g":"Intact","k":4,"x":45,"y":5.5},{"g":"Intact","k":4,"x":50,"y":5},{"g":"Intact","k":4,"x":55,"y":6.5},{"g":"Intact","k":4,"x":60,"y":12},{"g":"Intact","k":4,"x":65,"y":22},{"g":"Intact","k":4,"x":70,"y":38},{"g":"Intact","k":4,"x":75,"y":53},{"g":"Intact","k":4,"x":80,"y":49},{"g":"Intact","k":4,"x":85,"y":33},{"g":"Intact","k":4,"x":90,"y":16},{"g":"Intact","k":4,"x":95,"y":5},{"g":"Intact","k":4,"x":100,"y":1},
{"g":"Intact","k":3,"x":0,"y":1},{"g":"Intact","k":3,"x":5,"y":6},{"g":"Intact","k":3,"x":10,"y":13},{"g":"Intact","k":3,"x":15,"y":19},{"g":"Intact","k":3,"x":20,"y":22},{"g":"Intact","k":3,"x":25,"y":21},{"g":"Intact","k":3,"x":30,"y":16},{"g":"Intact","k":3,"x":35,"y":10.5},{"g":"Intact","k":3,"x":40,"y":6},{"g":"Intact","k":3,"x":45,"y":3.8},{"g":"Intact","k":3,"x":50,"y":3.5},{"g":"Intact","k":3,"x":55,"y":4.5},{"g":"Intact","k":3,"x":60,"y":9},{"g":"Intact","k":3,"x":65,"y":17},{"g":"Intact","k":3,"x":70,"y":32},{"g":"Intact","k":3,"x":75,"y":51},{"g":"Intact","k":3,"x":80,"y":52.5},{"g":"Intact","k":3,"x":85,"y":37},{"g":"Intact","k":3,"x":90,"y":19},{"g":"Intact","k":3,"x":95,"y":6.5},{"g":"Intact","k":3,"x":100,"y":0.5},
{"g":"Intact","k":2,"x":0,"y":2},{"g":"Intact","k":2,"x":5,"y":8},{"g":"Intact","k":2,"x":10,"y":15},{"g":"Intact","k":2,"x":15,"y":21.5},{"g":"Intact","k":2,"x":20,"y":24.5},{"g":"Intact","k":2,"x":25,"y":23},{"g":"Intact","k":2,"x":30,"y":18},{"g":"Intact","k":2,"x":35,"y":12},{"g":"Intact","k":2,"x":40,"y":7.5},{"g":"Intact","k":2,"x":45,"y":5},{"g":"Intact","k":2,"x":50,"y":4.2},{"g":"Intact","k":2,"x":55,"y":5.5},{"g":"Intact","k":2,"x":60,"y":10},{"g":"Intact","k":2,"x":65,"y":19},{"g":"Intact","k":2,"x":70,"y":34},{"g":"Intact","k":2,"x":75,"y":52},{"g":"Intact","k":2,"x":80,"y":51},{"g":"Intact","k":2,"x":85,"y":36},{"g":"Intact","k":2,"x":90,"y":18},{"g":"Intact","k":2,"x":95,"y":6},{"g":"Intact","k":2,"x":100,"y":1},
{"g":"Intact","k":1,"x":0,"y":1.5},{"g":"Intact","k":1,"x":5,"y":7.5},{"g":"Intact","k":1,"x":10,"y":14.5},{"g":"Intact","k":1,"x":15,"y":20.5},{"g":"Intact","k":1,"x":20,"y":23.5},{"g":"Intact","k":1,"x":25,"y":22},{"g":"Intact","k":1,"x":30,"y":17},{"g":"Intact","k":1,"x":35,"y":11.5},{"g":"Intact","k":1,"x":40,"y":7},{"g":"Intact","k":1,"x":45,"y":4.8},{"g":"Intact","k":1,"x":50,"y":4.2},{"g":"Intact","k":1,"x":55,"y":5},{"g":"Intact","k":1,"x":60,"y":9},{"g":"Intact","k":1,"x":65,"y":17},{"g":"Intact","k":1,"x":70,"y":33},{"g":"Intact","k":1,"x":75,"y":54},{"g":"Intact","k":1,"x":80,"y":53.5},{"g":"Intact","k":1,"x":85,"y":38},{"g":"Intact","k":1,"x":90,"y":20},{"g":"Intact","k":1,"x":95,"y":7},{"g":"Intact","k":1,"x":100,"y":1},
{"g":"Prosthesis","k":7,"x":0,"y":-2},{"g":"Prosthesis","k":7,"x":5,"y":1.5},{"g":"Prosthesis","k":7,"x":10,"y":5},{"g":"Prosthesis","k":7,"x":15,"y":8},{"g":"Prosthesis","k":7,"x":20,"y":9},{"g":"Prosthesis","k":7,"x":25,"y":8.5},{"g":"Prosthesis","k":7,"x":30,"y":7.5},{"g":"Prosthesis","k":7,"x":35,"y":6},{"g":"Prosthesis","k":7,"x":40,"y":4.8},{"g":"Prosthesis","k":7,"x":45,"y":4.5},{"g":"Prosthesis","k":7,"x":50,"y":6.5},{"g":"Prosthesis","k":7,"x":55,"y":12},{"g":"Prosthesis","k":7,"x":60,"y":22},{"g":"Prosthesis","k":7,"x":65,"y":38},{"g":"Prosthesis","k":7,"x":70,"y":54},{"g":"Prosthesis","k":7,"x":75,"y":56},{"g":"Prosthesis","k":7,"x":80,"y":41},{"g":"Prosthesis","k":7,"x":85,"y":23},{"g":"Prosthesis","k":7,"x":90,"y":8},{"g":"Prosthesis","k":7,"x":95,"y":0},{"g":"Prosthesis","k":7,"x":100,"y":-3},
{"g":"Prosthesis","k":6,"x":0,"y":-1.5},{"g":"Prosthesis","k":6,"x":5,"y":2},{"g":"Prosthesis","k":6,"x":10,"y":5.5},{"g":"Prosthesis","k":6,"x":15,"y":8.5},{"g":"Prosthesis","k":6,"x":20,"y":9.5},{"g":"Prosthesis","k":6,"x":25,"y":9},{"g":"Prosthesis","k":6,"x":30,"y":8},{"g":"Prosthesis","k":6,"x":35,"y":6.5},{"g":"Prosthesis","k":6,"x":40,"y":5},{"g":"Prosthesis","k":6,"x":45,"y":4.8},{"g":"Prosthesis","k":6,"x":50,"y":6},{"g":"Prosthesis","k":6,"x":55,"y":11},{"g":"Prosthesis","k":6,"x":60,"y":20},{"g":"Prosthesis","k":6,"x":65,"y":36},{"g":"Prosthesis","k":6,"x":70,"y":52},{"g":"Prosthesis","k":6,"x":75,"y":55},{"g":"Prosthesis","k":6,"x":80,"y":42},{"g":"Prosthesis","k":6,"x":85,"y":25},{"g":"Prosthesis","k":6,"x":90,"y":9},{"g":"Prosthesis","k":6,"x":95,"y":0.5},{"g":"Prosthesis","k":6,"x":100,"y":-2.5},
{"g":"Prosthesis","k":5,"x":0,"y":-1},{"g":"Prosthesis","k":5,"x":5,"y":3},{"g":"Prosthesis","k":5,"x":10,"y":7},{"g":"Prosthesis","k":5,"x":15,"y":10},{"g":"Prosthesis","k":5,"x":20,"y":10.5},{"g":"Prosthesis","k":5,"x":25,"y":10},{"g":"Prosthesis","k":5,"x":30,"y":8.5},{"g":"Prosthesis","k":5,"x":35,"y":6.5},{"g":"Prosthesis","k":5,"x":40,"y":5},{"g":"Prosthesis","k":5,"x":45,"y":4.5},{"g":"Prosthesis","k":5,"x":50,"y":5.5},{"g":"Prosthesis","k":5,"x":55,"y":9},{"g":"Prosthesis","k":5,"x":60,"y":17},{"g":"Prosthesis","k":5,"x":65,"y":31},{"g":"Prosthesis","k":5,"x":70,"y":48},{"g":"Prosthesis","k":5,"x":75,"y":56},{"g":"Prosthesis","k":5,"x":80,"y":46},{"g":"Prosthesis","k":5,"x":85,"y":29},{"g":"Prosthesis","k":5,"x":90,"y":12},{"g":"Prosthesis","k":5,"x":95,"y":1.5},{"g":"Prosthesis","k":5,"x":100,"y":-2},
{"g":"Prosthesis","k":4,"x":0,"y":0},{"g":"Prosthesis","k":4,"x":5,"y":5.5},{"g":"Prosthesis","k":4,"x":10,"y":12},{"g":"Prosthesis","k":4,"x":15,"y":17},{"g":"Prosthesis","k":4,"x":20,"y":18},{"g":"Prosthesis","k":4,"x":25,"y":16},{"g":"Prosthesis","k":4,"x":30,"y":12},{"g":"Prosthesis","k":4,"x":35,"y":8},{"g":"Prosthesis","k":4,"x":40,"y":5.5},{"g":"Prosthesis","k":4,"x":45,"y":4.5},{"g":"Prosthesis","k":4,"x":50,"y":5},{"g":"Prosthesis","k":4,"x":55,"y":8.5},{"g":"Prosthesis","k":4,"x":60,"y":16},{"g":"Prosthesis","k":4,"x":65,"y":30},{"g":"Prosthesis","k":4,"x":70,"y":47},{"g":"Prosthesis","k":4,"x":75,"y":55.5},{"g":"Prosthesis","k":4,"x":80,"y":46},{"g":"Prosthesis","k":4,"x":85,"y":29},{"g":"Prosthesis","k":4,"x":90,"y":13},{"g":"Prosthesis","k":4,"x":95,"y":2.5},{"g":"Prosthesis","k":4,"x":100,"y":-1},
{"g":"Prosthesis","k":3,"x":0,"y":0.5},{"g":"Prosthesis","k":3,"x":5,"y":6},{"g":"Prosthesis","k":3,"x":10,"y":14},{"g":"Prosthesis","k":3,"x":15,"y":20.5},{"g":"Prosthesis","k":3,"x":20,"y":22},{"g":"Prosthesis","k":3,"x":25,"y":18.5},{"g":"Prosthesis","k":3,"x":30,"y":12},{"g":"Prosthesis","k":3,"x":35,"y":7},{"g":"Prosthesis","k":3,"x":40,"y":4.5},{"g":"Prosthesis","k":3,"x":45,"y":4},{"g":"Prosthesis","k":3,"x":50,"y":5},{"g":"Prosthesis","k":3,"x":55,"y":9.5},{"g":"Prosthesis","k":3,"x":60,"y":18},{"g":"Prosthesis","k":3,"x":65,"y":33},{"g":"Prosthesis","k":3,"x":70,"y":50},{"g":"Prosthesis","k":3,"x":75,"y":56.5},{"g":"Prosthesis","k":3,"x":80,"y":44},{"g":"Prosthesis","k":3,"x":85,"y":26},{"g":"Prosthesis","k":3,"x":90,"y":10},{"g":"Prosthesis","k":3,"x":95,"y":1},{"g":"Prosthesis","k":3,"x":100,"y":-2},
{"g":"Prosthesis","k":2,"x":0,"y":0},{"g":"Prosthesis","k":2,"x":5,"y":5},{"g":"Prosthesis","k":2,"x":10,"y":11},{"g":"Prosthesis","k":2,"x":15,"y":15},{"g":"Prosthesis","k":2,"x":20,"y":16},{"g":"Prosthesis","k":2,"x":25,"y":14.5},{"g":"Prosthesis","k":2,"x":30,"y":11},{"g":"Prosthesis","k":2,"x":35,"y":7.5},{"g":"Prosthesis","k":2,"x":40,"y":5.5},{"g":"Prosthesis","k":2,"x":45,"y":5},{"g":"Prosthesis","k":2,"x":50,"y":6},{"g":"Prosthesis","k":2,"x":55,"y":10},{"g":"Prosthesis","k":2,"x":60,"y":18},{"g":"Prosthesis","k":2,"x":65,"y":32},{"g":"Prosthesis","k":2,"x":70,"y":48},{"g":"Prosthesis","k":2,"x":75,"y":55},{"g":"Prosthesis","k":2,"x":80,"y":45},{"g":"Prosthesis","k":2,"x":85,"y":28},{"g":"Prosthesis","k":2,"x":90,"y":12},{"g":"Prosthesis","k":2,"x":95,"y":2},{"g":"Prosthesis","k":2,"x":100,"y":-1.5},
{"g":"Prosthesis","k":1,"x":0,"y":-0.5},{"g":"Prosthesis","k":1,"x":5,"y":5},{"g":"Prosthesis","k":1,"x":10,"y":13},{"g":"Prosthesis","k":1,"x":15,"y":20.5},{"g":"Prosthesis","k":1,"x":20,"y":23},{"g":"Prosthesis","k":1,"x":25,"y":19.5},{"g":"Prosthesis","k":1,"x":30,"y":12},{"g":"Prosthesis","k":1,"x":35,"y":7.5},{"g":"Prosthesis","k":1,"x":40,"y":5},{"g":"Prosthesis","k":1,"x":45,"y":4.3},{"g":"Prosthesis","k":1,"x":50,"y":4.5},{"g":"Prosthesis","k":1,"x":55,"y":9},{"g":"Prosthesis","k":1,"x":60,"y":18},{"g":"Prosthesis","k":1,"x":65,"y":33},{"g":"Prosthesis","k":1,"x":70,"y":48},{"g":"Prosthesis","k":1,"x":75,"y":55},{"g":"Prosthesis","k":1,"x":80,"y":50},{"g":"Prosthesis","k":1,"x":85,"y":35},{"g":"Prosthesis","k":1,"x":90,"y":17},{"g":"Prosthesis","k":1,"x":95,"y":4},{"g":"Prosthesis","k":1,"x":100,"y":-1}],
"b3":[
{"g":"Intact","k":5,"x":0,"y":19},{"g":"Intact","k":5,"x":5,"y":22},{"g":"Intact","k":5,"x":10,"y":24},{"g":"Intact","k":5,"x":15,"y":23},{"g":"Intact","k":5,"x":20,"y":19},{"g":"Intact","k":5,"x":25,"y":14},{"g":"Intact","k":5,"x":30,"y":10},{"g":"Intact","k":5,"x":35,"y":7},{"g":"Intact","k":5,"x":40,"y":5},{"g":"Intact","k":5,"x":45,"y":4},{"g":"Intact","k":5,"x":50,"y":5},{"g":"Intact","k":5,"x":55,"y":10},{"g":"Intact","k":5,"x":60,"y":19},{"g":"Intact","k":5,"x":65,"y":30},{"g":"Intact","k":5,"x":70,"y":42},{"g":"Intact","k":5,"x":75,"y":51},{"g":"Intact","k":5,"x":80,"y":54},{"g":"Intact","k":5,"x":85,"y":47},{"g":"Intact","k":5,"x":90,"y":34},{"g":"Intact","k":5,"x":95,"y":24},{"g":"Intact","k":5,"x":100,"y":19},
{"g":"Intact","k":4,"x":0,"y":18},{"g":"Intact","k":4,"x":5,"y":21},{"g":"Intact","k":4,"x":10,"y":22},{"g":"Intact","k":4,"x":15,"y":20},{"g":"Intact","k":4,"x":20,"y":16},{"g":"Intact","k":4,"x":25,"y":12},{"g":"Intact","k":4,"x":30,"y":9},{"g":"Intact","k":4,"x":35,"y":7},{"g":"Intact","k":4,"x":40,"y":6},{"g":"Intact","k":4,"x":45,"y":6},{"g":"Intact","k":4,"x":50,"y":10},{"g":"Intact","k":4,"x":55,"y":20},{"g":"Intact","k":4,"x":60,"y":32},{"g":"Intact","k":4,"x":65,"y":44},{"g":"Intact","k":4,"x":70,"y":52},{"g":"Intact","k":4,"x":75,"y":55},{"g":"Intact","k":4,"x":80,"y":52},{"g":"Intact","k":4,"x":85,"y":40},{"g":"Intact","k":4,"x":90,"y":26},{"g":"Intact","k":4,"x":95,"y":16},{"g":"Intact","k":4,"x":100,"y":10},
{"g":"Intact","k":3,"x":0,"y":14},{"g":"Intact","k":3,"x":5,"y":16},{"g":"Intact","k":3,"x":10,"y":17.5},{"g":"Intact","k":3,"x":15,"y":17},{"g":"Intact","k":3,"x":20,"y":14.5},{"g":"Intact","k":3,"x":25,"y":11},{"g":"Intact","k":3,"x":30,"y":8.5},{"g":"Intact","k":3,"x":35,"y":6.5},{"g":"Intact","k":3,"x":40,"y":5},{"g":"Intact","k":3,"x":45,"y":3.5},{"g":"Intact","k":3,"x":50,"y":3.5},{"g":"Intact","k":3,"x":55,"y":7},{"g":"Intact","k":3,"x":60,"y":15},{"g":"Intact","k":3,"x":65,"y":26},{"g":"Intact","k":3,"x":70,"y":39},{"g":"Intact","k":3,"x":75,"y":51},{"g":"Intact","k":3,"x":80,"y":57},{"g":"Intact","k":3,"x":85,"y":50},{"g":"Intact","k":3,"x":90,"y":35},{"g":"Intact","k":3,"x":95,"y":22},{"g":"Intact","k":3,"x":100,"y":15},
{"g":"Intact","k":2,"x":0,"y":20},{"g":"Intact","k":2,"x":5,"y":24},{"g":"Intact","k":2,"x":10,"y":26},{"g":"Intact","k":2,"x":15,"y":25},{"g":"Intact","k":2,"x":20,"y":20},{"g":"Intact","k":2,"x":25,"y":14},{"g":"Intact","k":2,"x":30,"y":9},{"g":"Intact","k":2,"x":35,"y":6},{"g":"Intact","k":2,"x":40,"y":4},{"g":"Intact","k":2,"x":45,"y":3},{"g":"Intact","k":2,"x":50,"y":4},{"g":"Intact","k":2,"x":55,"y":9},{"g":"Intact","k":2,"x":60,"y":18},{"g":"Intact","k":2,"x":65,"y":30},{"g":"Intact","k":2,"x":70,"y":43},{"g":"Intact","k":2,"x":75,"y":54},{"g":"Intact","k":2,"x":80,"y":58.5},{"g":"Intact","k":2,"x":85,"y":50},{"g":"Intact","k":2,"x":90,"y":33},{"g":"Intact","k":2,"x":95,"y":19},{"g":"Intact","k":2,"x":100,"y":12},
{"g":"Intact","k":1,"x":0,"y":17},{"g":"Intact","k":1,"x":5,"y":18.5},{"g":"Intact","k":1,"x":10,"y":19.5},{"g":"Intact","k":1,"x":15,"y":18.5},{"g":"Intact","k":1,"x":20,"y":15},{"g":"Intact","k":1,"x":25,"y":11.5},{"g":"Intact","k":1,"x":30,"y":9},{"g":"Intact","k":1,"x":35,"y":7},{"g":"Intact","k":1,"x":40,"y":6},{"g":"Intact","k":1,"x":45,"y":5.5},{"g":"Intact","k":1,"x":50,"y":6.5},{"g":"Intact","k":1,"x":55,"y":12},{"g":"Intact","k":1,"x":60,"y":21},{"g":"Intact","k":1,"x":65,"y":32},{"g":"Intact","k":1,"x":70,"y":44},{"g":"Intact","k":1,"x":75,"y":53},{"g":"Intact","k":1,"x":80,"y":56},{"g":"Intact","k":1,"x":85,"y":45},{"g":"Intact","k":1,"x":90,"y":30},{"g":"Intact","k":1,"x":95,"y":17},{"g":"Intact","k":1,"x":100,"y":11},
{"g":"Prosthesis","k":8,"x":0,"y":18},{"g":"Prosthesis","k":8,"x":5,"y":22},{"g":"Prosthesis","k":8,"x":10,"y":24},{"g":"Prosthesis","k":8,"x":15,"y":22.5},{"g":"Prosthesis","k":8,"x":20,"y":18},{"g":"Prosthesis","k":8,"x":25,"y":13.5},{"g":"Prosthesis","k":8,"x":30,"y":10},{"g":"Prosthesis","k":8,"x":35,"y":7.5},{"g":"Prosthesis","k":8,"x":40,"y":5},{"g":"Prosthesis","k":8,"x":45,"y":3.5},{"g":"Prosthesis","k":8,"x":50,"y":3},{"g":"Prosthesis","k":8,"x":55,"y":5},{"g":"Prosthesis","k":8,"x":60,"y":11},{"g":"Prosthesis","k":8,"x":65,"y":22},{"g":"Prosthesis","k":8,"x":70,"y":35},{"g":"Prosthesis","k":8,"x":75,"y":47},{"g":"Prosthesis","k":8,"x":80,"y":53},{"g":"Prosthesis","k":8,"x":85,"y":49},{"g":"Prosthesis","k":8,"x":90,"y":37},{"g":"Prosthesis","k":8,"x":95,"y":25},{"g":"Prosthesis","k":8,"x":100,"y":20},
{"g":"Prosthesis","k":7,"x":0,"y":5},{"g":"Prosthesis","k":7,"x":5,"y":11},{"g":"Prosthesis","k":7,"x":10,"y":16},{"g":"Prosthesis","k":7,"x":15,"y":17},{"g":"Prosthesis","k":7,"x":20,"y":15},{"g":"Prosthesis","k":7,"x":25,"y":12},{"g":"Prosthesis","k":7,"x":30,"y":9.5},{"g":"Prosthesis","k":7,"x":35,"y":7},{"g":"Prosthesis","k":7,"x":40,"y":4.5},{"g":"Prosthesis","k":7,"x":45,"y":2},{"g":"Prosthesis","k":7,"x":50,"y":0.5},{"g":"Prosthesis","k":7,"x":55,"y":1},{"g":"Prosthesis","k":7,"x":60,"y":6},{"g":"Prosthesis","k":7,"x":65,"y":17},{"g":"Prosthesis","k":7,"x":70,"y":31},{"g":"Prosthesis","k":7,"x":75,"y":44},{"g":"Prosthesis","k":7,"x":80,"y":52},{"g":"Prosthesis","k":7,"x":85,"y":50},{"g":"Prosthesis","k":7,"x":90,"y":38},{"g":"Prosthesis","k":7,"x":95,"y":24},{"g":"Prosthesis","k":7,"x":100,"y":15},
{"g":"Prosthesis","k":6,"x":0,"y":0},{"g":"Prosthesis","k":6,"x":5,"y":5},{"g":"Prosthesis","k":6,"x":10,"y":11},{"g":"Prosthesis","k":6,"x":15,"y":15},{"g":"Prosthesis","k":6,"x":20,"y":15},{"g":"Prosthesis","k":6,"x":25,"y":13},{"g":"Prosthesis","k":6,"x":30,"y":10},{"g":"Prosthesis","k":6,"x":35,"y":7.5},{"g":"Prosthesis","k":6,"x":40,"y":5},{"g":"Prosthesis","k":6,"x":45,"y":3},{"g":"Prosthesis","k":6,"x":50,"y":1},{"g":"Prosthesis","k":6,"x":55,"y":2},{"g":"Prosthesis","k":6,"x":60,"y":8},{"g":"Prosthesis","k":6,"x":65,"y":20},{"g":"Prosthesis","k":6,"x":70,"y":34},{"g":"Prosthesis","k":6,"x":75,"y":47},{"g":"Prosthesis","k":6,"x":80,"y":53},{"g":"Prosthesis","k":6,"x":85,"y":48},{"g":"Prosthesis","k":6,"x":90,"y":35},{"g":"Prosthesis","k":6,"x":95,"y":22},{"g":"Prosthesis","k":6,"x":100,"y":14},
{"g":"Prosthesis","k":5,"x":0,"y":21},{"g":"Prosthesis","k":5,"x":5,"y":25},{"g":"Prosthesis","k":5,"x":10,"y":27},{"g":"Prosthesis","k":5,"x":15,"y":25.5},{"g":"Prosthesis","k":5,"x":20,"y":20},{"g":"Prosthesis","k":5,"x":25,"y":14.5},{"g":"Prosthesis","k":5,"x":30,"y":10},{"g":"Prosthesis","k":5,"x":35,"y":7},{"g":"Prosthesis","k":5,"x":40,"y":4.5},{"g":"Prosthesis","k":5,"x":45,"y":2},{"g":"Prosthesis","k":5,"x":50,"y":1},{"g":"Prosthesis","k":5,"x":55,"y":3},{"g":"Prosthesis","k":5,"x":60,"y":10},{"g":"Prosthesis","k":5,"x":65,"y":22},{"g":"Prosthesis","k":5,"x":70,"y":36},{"g":"Prosthesis","k":5,"x":75,"y":48},{"g":"Prosthesis","k":5,"x":80,"y":54},{"g":"Prosthesis","k":5,"x":85,"y":48},{"g":"Prosthesis","k":5,"x":90,"y":34},{"g":"Prosthesis","k":5,"x":95,"y":21},{"g":"Prosthesis","k":5,"x":100,"y":13},
{"g":"Prosthesis","k":4,"x":0,"y":10},{"g":"Prosthesis","k":4,"x":5,"y":13},{"g":"Prosthesis","k":4,"x":10,"y":16.5},{"g":"Prosthesis","k":4,"x":15,"y":17.5},{"g":"Prosthesis","k":4,"x":20,"y":16},{"g":"Prosthesis","k":4,"x":25,"y":13},{"g":"Prosthesis","k":4,"x":30,"y":10},{"g":"Prosthesis","k":4,"x":35,"y":8},{"g":"Prosthesis","k":4,"x":40,"y":6},{"g":"Prosthesis","k":4,"x":45,"y":4},{"g":"Prosthesis","k":4,"x":50,"y":3.5},{"g":"Prosthesis","k":4,"x":55,"y":5.5},{"g":"Prosthesis","k":4,"x":60,"y":12},{"g":"Prosthesis","k":4,"x":65,"y":23},{"g":"Prosthesis","k":4,"x":70,"y":36},{"g":"Prosthesis","k":4,"x":75,"y":48},{"g":"Prosthesis","k":4,"x":80,"y":54},{"g":"Prosthesis","k":4,"x":85,"y":47},{"g":"Prosthesis","k":4,"x":90,"y":33},{"g":"Prosthesis","k":4,"x":95,"y":22},{"g":"Prosthesis","k":4,"x":100,"y":17},
{"g":"Prosthesis","k":3,"x":0,"y":16},{"g":"Prosthesis","k":3,"x":5,"y":21},{"g":"Prosthesis","k":3,"x":10,"y":24.5},{"g":"Prosthesis","k":3,"x":15,"y":24},{"g":"Prosthesis","k":3,"x":20,"y":19},{"g":"Prosthesis","k":3,"x":25,"y":14},{"g":"Prosthesis","k":3,"x":30,"y":10},{"g":"Prosthesis","k":3,"x":35,"y":7},{"g":"Prosthesis","k":3,"x":40,"y":4.5},{"g":"Prosthesis","k":3,"x":45,"y":2.5},{"g":"Prosthesis","k":3,"x":50,"y":2},{"g":"Prosthesis","k":3,"x":55,"y":5},{"g":"Prosthesis","k":3,"x":60,"y":13},{"g":"Prosthesis","k":3,"x":65,"y":26},{"g":"Prosthesis","k":3,"x":70,"y":40},{"g":"Prosthesis","k":3,"x":75,"y":51},{"g":"Prosthesis","k":3,"x":80,"y":54},{"g":"Prosthesis","k":3,"x":85,"y":46},{"g":"Prosthesis","k":3,"x":90,"y":31},{"g":"Prosthesis","k":3,"x":95,"y":19},{"g":"Prosthesis","k":3,"x":100,"y":12},
{"g":"Prosthesis","k":2,"x":0,"y":13},{"g":"Prosthesis","k":2,"x":5,"y":17},{"g":"Prosthesis","k":2,"x":10,"y":19.5},{"g":"Prosthesis","k":2,"x":15,"y":19},{"g":"Prosthesis","k":2,"x":20,"y":16},{"g":"Prosthesis","k":2,"x":25,"y":12.5},{"g":"Prosthesis","k":2,"x":30,"y":10},{"g":"Prosthesis","k":2,"x":35,"y":8},{"g":"Prosthesis","k":2,"x":40,"y":6.5},{"g":"Prosthesis","k":2,"x":45,"y":5.5},{"g":"Prosthesis","k":2,"x":50,"y":6},{"g":"Prosthesis","k":2,"x":55,"y":9},{"g":"Prosthesis","k":2,"x":60,"y":17},{"g":"Prosthesis","k":2,"x":65,"y":30},{"g":"Prosthesis","k":2,"x":70,"y":43},{"g":"Prosthesis","k":2,"x":75,"y":53},{"g":"Prosthesis","k":2,"x":80,"y":54},{"g":"Prosthesis","k":2,"x":85,"y":42},{"g":"Prosthesis","k":2,"x":90,"y":26},{"g":"Prosthesis","k":2,"x":95,"y":14},{"g":"Prosthesis","k":2,"x":100,"y":8},
{"g":"Prosthesis","k":1,"x":0,"y":11.5},{"g":"Prosthesis","k":1,"x":5,"y":15},{"g":"Prosthesis","k":1,"x":10,"y":19},{"g":"Prosthesis","k":1,"x":15,"y":19.5},{"g":"Prosthesis","k":1,"x":20,"y":17},{"g":"Prosthesis","k":1,"x":25,"y":13},{"g":"Prosthesis","k":1,"x":30,"y":10},{"g":"Prosthesis","k":1,"x":35,"y":8},{"g":"Prosthesis","k":1,"x":40,"y":6},{"g":"Prosthesis","k":1,"x":45,"y":4.5},{"g":"Prosthesis","k":1,"x":50,"y":4},{"g":"Prosthesis","k":1,"x":55,"y":6},{"g":"Prosthesis","k":1,"x":60,"y":13},{"g":"Prosthesis","k":1,"x":65,"y":25},{"g":"Prosthesis","k":1,"x":70,"y":38},{"g":"Prosthesis","k":1,"x":75,"y":50},{"g":"Prosthesis","k":1,"x":80,"y":53},{"g":"Prosthesis","k":1,"x":85,"y":45},{"g":"Prosthesis","k":1,"x":90,"y":29},{"g":"Prosthesis","k":1,"x":95,"y":17},{"g":"Prosthesis","k":1,"x":100,"y":10}]
},
"columns":3,
"spacing":{"row":32,"column":51},
"bounds":"flush",
"resolve":{"scale":{"color":"independent","opacity":"independent","strokeWidth":"independent"},"legend":{"color":"independent"}},
"concat":[
{"width":169,"height":130,
"title":{"text":"A","orient":"left","anchor":"end","angle":0,"align":"left","baseline":"top","frame":"group","dy":-2,"offset":1,"fontSize":15,"fontWeight":"normal","color":"#000000"},
"layer":[
{"data":{"name":"a1"},"mark":{"type":"line","strokeWidth":1},"encoding":{
"x":{"field":"x","type":"quantitative","scale":{"domain":[0,45],"nice":false},"axis":{"values":[0,5,10,15,20,25,30,35,40,45],"tickCount":30,"format":"d","title":null,"labelOverlap":false}},
"y":{"field":"y","type":"quantitative","scale":{"domain":[-18.5,18],"nice":false},"axis":{"values":[-15,-10,-5,0,5,10,15],"tickCount":30,"format":"d","title":"Angle (deg)","labelOverlap":false}},
"color":{"field":"s","type":"nominal","scale":{"domain":["STF","STE","SWF","SWE"],"range":["#3490d6","#e5632f","#f4b82f","#8e3ea5"]},"legend":{"title":null,"orient":"top-right","offset":3,"symbolType":"stroke","symbolSize":324,"symbolStrokeWidth":1.5}}}},
{"data":{"values":[{"t":2},{"t":-2}]},"mark":{"type":"rule","strokeDash":[4,3],"color":"#555555","strokeWidth":1},"encoding":{"y":{"field":"t","type":"quantitative"},"x":{"datum":0.5},"x2":{"datum":44}}}]},
{"width":160,"height":130,
"layer":[
{"data":{"name":"a2"},"mark":{"type":"line","strokeWidth":1},"encoding":{
"x":{"field":"x","type":"quantitative","scale":{"domain":[0,45],"nice":false},"axis":{"values":[0,10,20,30,40],"tickCount":30,"format":"d","title":null,"labelOverlap":false}},
"y":{"field":"y","type":"quantitative","scale":{"domain":[-0.08,0.08],"nice":false},"axis":{"values":[-0.08,-0.04,0,0.04,0.08],"tickCount":30,"format":"~g","title":"Percetage of the gait cycle","labelOverlap":false}},
"color":{"field":"s","type":"nominal","scale":{"domain":["STF","STE","SWF","SWE"],"range":["#3490d6","#e5632f","#f4b82f","#8e3ea5"]},"legend":{"title":null,"orient":"top-right","offset":1,"symbolType":"stroke","symbolSize":256,"symbolStrokeWidth":1.5}}}},
{"data":{"values":[{"t":0.03},{"t":-0.03}]},"mark":{"type":"rule","strokeDash":[4,3],"color":"#555555","strokeWidth":1},"encoding":{"y":{"field":"t","type":"quantitative"},"x":{"datum":0},"x2":{"datum":44.8}}}]},
{"width":161,"height":130,
"data":{"name":"a3"},
"mark":{"type":"line","interpolate":"monotone"},
"encoding":{
"x":{"field":"x","type":"quantitative","scale":{"domain":[0,100],"nice":false},"axis":{"values":[0,20,40,60,80,100],"tickCount":30,"format":"d","title":null,"labelOverlap":false}},
"y":{"field":"y","type":"quantitative","scale":{"domain":[-10,60],"nice":false},"axis":{"values":[0,20,40,60],"tickCount":30,"format":"d","title":"Knee Angle (deg)","labelOverlap":false}},
"color":{"field":"g","type":"nominal","scale":{"domain":["Intact","Prosthesis"],"range":["#4a5cf0","#f2545b"]},"legend":{"title":null,"orient":"none","legendX":17,"legendY":4,"symbolType":"stroke","symbolSize":289,"symbolStrokeWidth":2.5,"symbolOpacity":1,"rowPadding":0,"padding":1.5}},
"detail":{"field":"k"},
"opacity":{"field":"k","type":"quantitative","scale":{"domain":[1,7],"range":[1,0.18]},"legend":null},
"strokeWidth":{"field":"k","type":"quantitative","scale":{"domain":[1,2],"range":[2.4,1.4],"clamp":true},"legend":null}}},
{"width":169,"height":129,
"title":{"text":"B","orient":"left","anchor":"end","angle":0,"align":"left","baseline":"alphabetic","frame":"group","dy":-2,"offset":6,"fontSize":15,"fontWeight":"normal","color":"#000000"},
"layer":[
{"data":{"name":"b1"},"mark":{"type":"line","strokeWidth":1},"encoding":{
"x":{"field":"x","type":"quantitative","scale":{"domain":[0,100],"nice":false},"axis":{"values":[0,20,40,60,80,100],"tickCount":30,"format":"d","title":"Impedance updates","titleFontSize":8,"labelOverlap":false}},
"y":{"field":"y","type":"quantitative","scale":{"domain":[-10.8,10.3],"nice":false},"axis":{"values":[-8,-4,0,4,8],"tickCount":30,"format":"d","title":"Angle (deg)","labelOverlap":false}},
"color":{"field":"s","type":"nominal","scale":{"domain":["STF","STE","SWF","SWE"],"range":["#3490d6","#e5632f","#f4b82f","#8e3ea5"]},"legend":{"title":null,"orient":"top-right","offset":3,"symbolType":"stroke","symbolSize":324,"symbolStrokeWidth":1.5}}}},
{"data":{"values":[{"t":2},{"t":-2}]},"mark":{"type":"rule","strokeDash":[4,3],"color":"#555555","strokeWidth":1},"encoding":{"y":{"field":"t","type":"quantitative"},"x":{"datum":0},"x2":{"datum":98.5}}}]},
{"width":160,"height":129,
"layer":[
{"data":{"name":"b2"},"mark":{"type":"line","strokeWidth":1},"encoding":{
"x":{"field":"x","type":"quantitative","scale":{"domain":[0,100],"nice":false},"axis":{"values":[0,20,40,60,80,100],"tickCount":30,"format":"d","title":"Impedance updates","titleFontSize":8,"labelOverlap":false}},
"y":{"field":"y","type":"quantitative","scale":{"domain":[-0.08,0.08],"nice":false},"axis":{"values":[-0.08,-0.04,0,0.04,0.08],"tickCount":30,"format":"~g","title":"Percetage of the gait cycle","labelOverlap":false}},
"color":{"field":"s","type":"nominal","scale":{"domain":["STF","STE","SWF","SWE"],"range":["#3490d6","#e5632f","#f4b82f","#8e3ea5"]},"legend":{"title":null,"orient":"top-right","offset":1,"symbolType":"stroke","symbolSize":256,"symbolStrokeWidth":1.5}}}},
{"data":{"values":[{"t":0.03},{"t":-0.03}]},"mark":{"type":"rule","strokeDash":[4,3],"color":"#555555","strokeWidth":1},"encoding":{"y":{"field":"t","type":"quantitative"},"x":{"datum":0},"x2":{"datum":100}}}]},
{"width":161,"height":129,
"data":{"name":"b3"},
"mark":{"type":"line","interpolate":"monotone"},
"encoding":{
"x":{"field":"x","type":"quantitative","scale":{"domain":[0,100],"nice":false},"axis":{"values":[0,20,40,60,80,100],"tickCount":30,"format":"d","title":"Gait Cycle Percentage","titleFontSize":8,"labelOverlap":false}},
"y":{"field":"y","type":"quantitative","scale":{"domain":[-10,60],"nice":false},"axis":{"values":[0,20,40,60],"tickCount":30,"format":"d","title":"Knee Angle (deg)","labelOverlap":false}},
"color":{"field":"g","type":"nominal","scale":{"domain":["Intact","Prosthesis"],"range":["#4a5cf0","#f2545b"]},"legend":{"title":null,"orient":"none","legendX":18,"legendY":2,"symbolType":"stroke","symbolSize":225,"symbolStrokeWidth":2.5,"symbolOpacity":1,"rowPadding":0,"padding":1.5}},
"detail":{"field":"k"},
"opacity":{"field":"k","type":"quantitative","scale":{"domain":[1,8],"range":[1,0.18]},"legend":null},
"strokeWidth":{"field":"k","type":"quantitative","scale":{"domain":[1,2],"range":[2.4,1.4],"clamp":true},"legend":null}}}
]
}
